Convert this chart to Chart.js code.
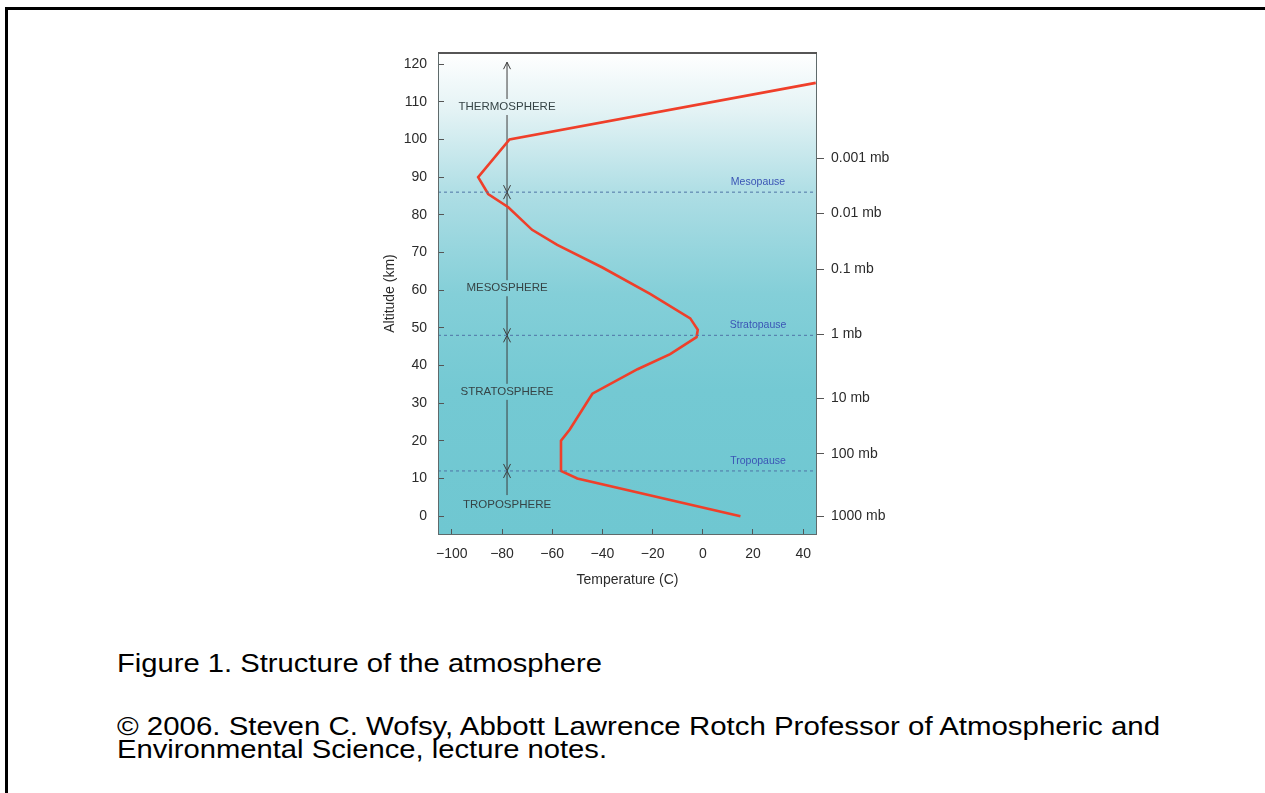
<!DOCTYPE html>
<html>
<head>
<meta charset="utf-8">
<title>Structure of the atmosphere</title>
<script src="https://cdn.jsdelivr.net/npm/chart.js@4.4.1/dist/chart.umd.min.js"></script>
<style>
  html, body { margin: 0; padding: 0; background: #fff; }
  body { width: 1265px; height: 793px; position: relative; overflow: hidden; font-family: "Liberation Sans", Arial, sans-serif; }
  .page-border { position: absolute; left: 5px; top: 7px; width: 1300px; height: 820px; border-top: 3px solid #000; border-left: 3px solid #000; }
  #wrap { position: absolute; left: 0; top: 0; width: 1265px; height: 620px; }
  .caption { position: absolute; left: 117px; color: #000; font-size: 26px; white-space: nowrap; transform-origin: 0 0; }
  #fig { top: 650px; line-height: 26px; }
  #copy { top: 715px; line-height: 23px; }
</style>
</head>
<body>
<div class="page-border"></div>
<div id="wrap"><canvas id="atmo-chart" width="1265" height="620"></canvas></div>
<div class="caption" id="fig" data-w="485">Figure 1. Structure of the atmosphere</div>
<div class="caption" id="copy">
  <div data-w="1043">© 2006. Steven C. Wofsy, Abbott Lawrence Rotch Professor of Atmospheric and</div>
  <div data-w="490">Environmental Science, lecture notes.</div>
</div>
<script>
// temperature profile (C) against altitude (km)
const altitude = [0, 10, 12, 20, 23, 32.5, 39, 43, 47.5, 49.5, 52.5, 59, 66, 72, 76, 82, 85.5, 90, 100, 115];
const temperature = [15, -50, -56.5, -56.5, -53, -44, -26, -13, -2.5, -2, -5, -21, -40, -58, -68, -77.5, -85.5, -89.5, -77, 45];

// axis ticks
const tempTicks = [-100, -80, -60, -40, -20, 0, 20, 40];
const altTicks = [0, 10, 20, 30, 40, 50, 60, 70, 80, 90, 100, 110, 120];
const pressureLabels = ["1000 mb", "100 mb", "10 mb", "1 mb", "0.1 mb", "0.01 mb", "0.001 mb"];
const pressureAlt = [0, 16.5, 31.3, 48.3, 65.6, 80.4, 95];

// boundaries and layers
const pauseNames = ["Tropopause", "Stratopause", "Mesopause"];
const pauseAlt = [12, 48, 86];
const layerNames = ["TROPOSPHERE", "STRATOSPHERE", "MESOSPHERE", "THERMOSPHERE"];
const layerAlt = [3, 33, 60.5, 108.6];
const arrowTemp = -78;
const arrowRange = [5.6, 120.5];
const pauseLabelTemp = 22;

const X_MIN = -105.5, X_MAX = 45.5, Y_MIN = -5, Y_MAX = 123.2;

function makeGradient(ctx, area) {
  const g = ctx.createLinearGradient(0, area.top, 0, area.bottom);
  g.addColorStop(0, "#ffffff");
  g.addColorStop(0.12, "#e4f3f5");
  g.addColorStop(0.3, "#acdde4");
  g.addColorStop(0.5, "#84cfd8");
  g.addColorStop(0.7, "#74c9d3");
  g.addColorStop(1, "#6fc7d1");
  return g;
}

const decorPlugin = {
  id: "decor",
  beforeDraw(chart) {
    const { ctx, chartArea } = chart;
    ctx.save();
    ctx.fillStyle = makeGradient(ctx, chartArea);
    ctx.fillRect(chartArea.left, chartArea.top, chartArea.right - chartArea.left, chartArea.bottom - chartArea.top);
    ctx.restore();
  },
  beforeDatasetsDraw(chart) {
    const { ctx, chartArea, scales } = chart;
    const x = scales.x.getPixelForValue(arrowTemp);
    const yTop = scales.y.getPixelForValue(arrowRange[1]);
    const yBot = scales.y.getPixelForValue(arrowRange[0]);
    ctx.save();
    ctx.strokeStyle = "#3c3c3c";
    ctx.lineWidth = 1;
    ctx.beginPath();
    ctx.moveTo(x, yTop);
    ctx.lineTo(x, yBot);
    ctx.stroke();
    const head = (tipY, dir) => {
      ctx.beginPath();
      ctx.moveTo(x - 3.5, tipY - dir * 7);
      ctx.lineTo(x, tipY);
      ctx.lineTo(x + 3.5, tipY - dir * 7);
      ctx.stroke();
    };
    head(yTop, -1);
    pauseAlt.forEach((a) => {
      const py = scales.y.getPixelForValue(a);
      head(py, 1);
      head(py, -1);
    });
    // layer names sit on the arrow line
    ctx.font = "11.5px 'Liberation Sans', Arial, sans-serif";
    ctx.textAlign = "center";
    ctx.textBaseline = "middle";
    const bg = makeGradient(ctx, chartArea);
    layerNames.forEach((name, i) => {
      const y = scales.y.getPixelForValue(layerAlt[i]);
      const w = ctx.measureText(name).width;
      ctx.fillStyle = bg;
      ctx.fillRect(x - w / 2 - 3, y - 8, w + 6, 16);
      ctx.fillStyle = "#364446";
      ctx.fillText(name, x, y);
    });
    ctx.font = "10.5px 'Liberation Sans', Arial, sans-serif";
    ctx.fillStyle = "#3b55b5";
    pauseNames.forEach((name, i) => {
      const px = scales.x.getPixelForValue(pauseLabelTemp);
      const py = scales.y.getPixelForValue(pauseAlt[i] + 2.7);
      ctx.fillText(name, px, py);
    });
    ctx.restore();
  },
  afterDraw(chart) {
    const { ctx, chartArea: a } = chart;
    ctx.save();
    ctx.strokeStyle = "#5f6a6b";
    ctx.lineWidth = 1;
    ctx.strokeRect(a.left + 0.5, a.top + 0.5, a.right - a.left - 1, a.bottom - a.top - 1);
    ctx.strokeStyle = "#555";
    ctx.lineWidth = 2;
    ctx.beginPath();
    ctx.moveTo(a.left, a.top + 1);
    ctx.lineTo(a.right, a.top + 1);
    ctx.stroke();
    ctx.restore();
  },
};

const tickFont = { family: "'Liberation Sans', Arial, sans-serif", size: 14 };
const titleFont = { family: "'Liberation Sans', Arial, sans-serif", size: 14 };

const profile = altitude.map((a, i) => ({ x: temperature[i], y: a }));
const pauseSets = pauseAlt.map((a) => ({
  data: [{ x: X_MIN, y: a }, { x: X_MAX, y: a }],
  borderColor: "#4f74a6",
  borderWidth: 1,
  borderDash: [3, 3],
  pointRadius: 0,
  showLine: true,
}));

new Chart(document.getElementById("atmo-chart"), {
  type: "scatter",
  data: {
    datasets: [
      ...pauseSets,
      {
        data: profile,
        borderColor: "#ef3f2a",
        borderWidth: 2.6,
        pointRadius: 0,
        showLine: true,
        tension: 0,
      },
    ],
  },
  options: {
    responsive: false,
    animation: false,
    devicePixelRatio: 1,
    layout: { padding: { left: 338, right: 348, top: 52, bottom: 20 } },
    plugins: { legend: { display: false }, tooltip: { enabled: false } },
    scales: {
      x: {
        type: "linear",
        position: "bottom",
        min: X_MIN,
        max: X_MAX,
        afterBuildTicks: (s) => { s.ticks = tempTicks.map((v) => ({ value: v })); },
        afterFit: (s) => { s.height = 65; },
        ticks: {
          font: tickFont,
          color: "#2b2b2b",
          padding: 17,
          maxRotation: 0,
          callback: (v) => (v < 0 ? "\u2212" + Math.abs(v) : String(v)),
        },
        grid: { drawOnChartArea: false, tickLength: -6, color: "#555" },
        border: { display: false },
        title: { display: true, text: "Temperature (C)", font: titleFont, color: "#2b2b2b", padding: { bottom: 11 } },
      },
      y: {
        type: "linear",
        position: "left",
        min: Y_MIN,
        max: Y_MAX,
        afterBuildTicks: (s) => { s.ticks = altTicks.map((v) => ({ value: v })); },
        afterFit: (s) => { s.width = 100; },
        ticks: { font: tickFont, color: "#2b2b2b", padding: 17 },
        grid: { drawOnChartArea: false, tickLength: -6, color: "#555" },
        border: { display: false },
        title: { display: true, text: "Altitude (km)", font: titleFont, color: "#2b2b2b", padding: { top: 44 } },
      },
      y2: {
        type: "linear",
        position: "right",
        min: Y_MIN,
        max: Y_MAX,
        afterBuildTicks: (s) => { s.ticks = pressureAlt.map((v) => ({ value: v })); },
        afterFit: (s) => { s.width = 100; },
        ticks: { font: tickFont, color: "#2b2b2b", padding: 7, callback: (v, i) => pressureLabels[i] },
        grid: { drawOnChartArea: false, tickLength: 7, color: "#555" },
        border: { display: false },
      },
    },
  },
  plugins: [decorPlugin],
});

// caption text in the reference is stretched sideways
document.querySelectorAll("[data-w]").forEach((el) => {
  el.style.display = "inline-block";
  el.style.transformOrigin = "0 0";
  const w = el.getBoundingClientRect().width;
  el.style.transform = `scaleX(${Number(el.dataset.w) / w})`;
});
document.querySelectorAll("#copy > div").forEach((el) => { el.style.display = "block"; el.style.width = "max-content"; });
</script>
</body>
</html>
